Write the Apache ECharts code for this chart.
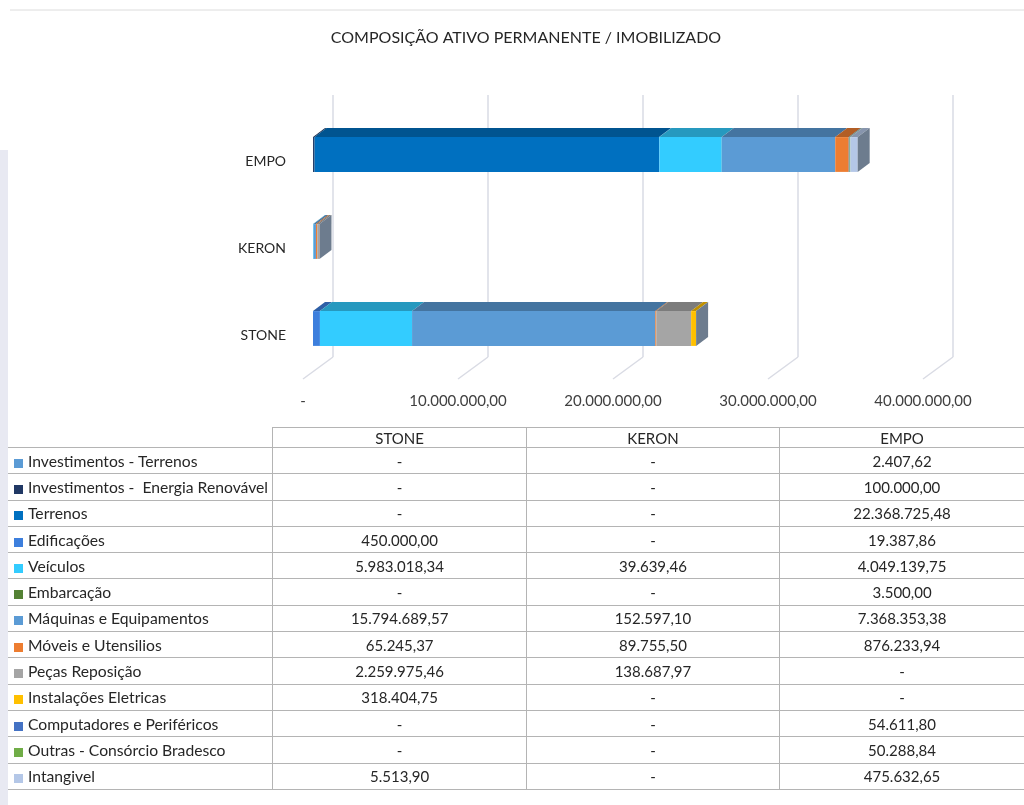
<!DOCTYPE html>
<html>
<head>
    <meta charset="utf-8">
    <title>Composição Ativo Permanente / Imobilizado</title>
    <script src="https://cdn.jsdelivr.net/npm/echarts@6/dist/echarts.min.js"></script>
    <style>
        body { margin: 0; background: #fff; }
        #wrap { position: relative; width: 1024px; height: 805px; overflow: hidden; }
        #chart { position: absolute; left: 0; top: 0; width: 1024px; height: 805px; }
        #tabela {
            position: absolute; left: 8px; top: 427px;
            border-collapse: collapse; table-layout: fixed;
            font-family: Lato, 'Noto Sans', sans-serif; font-size: 15px; color: #262626;
        }
        #tabela td, #tabela th { padding: 0; white-space: pre; font-weight: normal; }
        #tabela th { height: 19px; text-align: center; border-top: 1px solid #b4b4b4; border-left: 1px solid #b4b4b4; border-bottom: 1px solid #b4b4b4; }
        #tabela th.vazio { border-top: none; border-left: none; }
        #tabela td { height: 25.3px; border-bottom: 1px solid #b4b4b4; text-align: center; border-left: 1px solid #b4b4b4; }
        #tabela td.conta { text-align: left; border-left: none; padding-left: 6px; font-size: 15.7px; }
        .quad { display: inline-block; width: 9px; height: 9px; margin-right: 5px; vertical-align: -1px; }
    </style>
</head>
<body>
<div id="wrap">
    <div id="chart"></div>
    <table id="tabela"></table>
</div>
<script>
    // dados
    var empresas = ['STONE', 'KERON', 'EMPO'];
    var contas = [
        'Investimentos - Terrenos',
        'Investimentos -  Energia Renovável',
        'Terrenos',
        'Edificações',
        'Veículos',
        'Embarcação',
        'Máquinas e Equipamentos',
        'Móveis e Utensilios',
        'Peças Reposição',
        'Instalações Eletricas',
        'Computadores e Periféricos',
        'Outras - Consórcio Bradesco',
        'Intangivel'
    ];
    var cores = ['#5b9bd5', '#203864', '#0070c0', '#3d7fdd', '#33ccff', '#548235', '#5b9bd5',
                 '#ed7d31', '#a5a5a5', '#ffc000', '#4472c4', '#70ad47', '#b4c7e7'];
    var stone = [null, null, null, 450000.00, 5983018.34, null, 15794689.57, 65245.37, 2259975.46, 318404.75, null, null, 5513.90];
    var keron = [null, null, null, null, 39639.46, null, 152597.10, 89755.50, 138687.97, null, null, null, null];
    var empo = [2407.62, 100000.00, 22368725.48, 19387.86, 4049139.75, 3500.00, 7368353.38, 876233.94, null, null, 54611.80, 50288.84, 475632.65];
    var ticks = [0, 10000000, 20000000, 30000000, 40000000];

    var valores = [stone, keron, empo];

    function fmt(v) {
        if (v === null || v === 0) return '-';
        var p = v.toFixed(2).split('.');
        return p[0].replace(/\B(?=(\d{3})+(?!\d))/g, '.') + ',' + p[1];
    }

    function escurecer(hex, f) {
        var n = parseInt(hex.slice(1), 16);
        var r = Math.round(((n >> 16) & 255) * f), g = Math.round(((n >> 8) & 255) * f), b = Math.round((n & 255) * f);
        return 'rgb(' + r + ',' + g + ',' + b + ')';
    }

    // tabela de dados (legenda)
    var tab = document.getElementById('tabela');
    var html = '<colgroup><col style="width:265px"><col style="width:254px"><col style="width:254px"><col style="width:245px"></colgroup>';
    html += '<tr><th class="vazio"></th>';
    empresas.forEach(function (e) { html += '<th>' + e + '</th>'; });
    html += '</tr>';
    contas.forEach(function (c, i) {
        html += '<tr><td class="conta"><span class="quad" style="background:' + cores[i] + '"></span>' + c + '</td>';
        valores.forEach(function (arr) { html += '<td>' + fmt(arr[i]) + '</td>'; });
        html += '</tr>';
    });
    tab.innerHTML = html;

    // barras empilhadas (início/fim de cada segmento)
    var ultimo = valores.map(function (arr) {
        var u = -1;
        arr.forEach(function (v, i) { if (v) u = i; });
        return u;
    });
    var acum = [0, 0, 0];
    var DX = 12, DY = 9;

    var series = contas.map(function (nome, i) {
        var data = valores.map(function (arr, c) {
            var v = arr[i] || 0;
            var ini = acum[c];
            acum[c] += v;
            return [ini, acum[c], c, ultimo[c] === i ? 1 : 0];
        });
        return {
            name: nome,
            type: 'custom',
            xAxisIndex: 0,
            yAxisIndex: 0,
            z: 5,
            data: data,
            renderItem: function (params, api) {
                var s = api.value(0), e = api.value(1), c = api.value(2), last = api.value(3);
                if (e - s <= 0) return;
                var a = api.coord([s, c]), b = api.coord([e, c]);
                var h = api.size([0, 1])[1] * 0.4;
                var yt = a[1] - h / 2, yb = a[1] + h / 2;
                var filhos = [
                    { type: 'polygon', shape: { points: [[a[0], yt], [a[0] + DX, yt - DY], [b[0] + DX, yt - DY], [b[0], yt]] },
                      style: { fill: escurecer(cores[i], 0.75) } },
                    { type: 'rect', shape: { x: a[0], y: yt, width: b[0] - a[0], height: h }, style: { fill: cores[i] } }
                ];
                if (last) {
                    filhos.push({ type: 'polygon', shape: { points: [[b[0], yt], [b[0] + DX, yt - DY], [b[0] + DX, yb - DY], [b[0], yb]] },
                                  style: { fill: '#6d7c8e' } });
                }
                return { type: 'group', children: filhos };
            }
        };
    });

    // linhas do piso (diagonais)
    series.push({
        type: 'custom',
        xAxisIndex: 1,
        yAxisIndex: 1,
        z: 1,
        silent: true,
        data: ticks.map(function (t) { return [t, 0]; }),
        renderItem: function (params, api) {
            var p = api.coord([api.value(0), 0]);
            return { type: 'line', shape: { x1: p[0], y1: p[1], x2: p[0] - 30, y2: p[1] + 22 },
                     style: { stroke: '#d9dbe4', lineWidth: 1.5 } };
        }
    });

    var chart = echarts.init(document.getElementById('chart'));
    chart.setOption({
        animation: false,
        title: {
            text: 'COMPOSIÇÃO ATIVO PERMANENTE / IMOBILIZADO',
            left: 521,
            top: 25,
            textAlign: 'center',
            textStyle: { fontFamily: 'Lato', fontSize: 16, fontWeight: 'normal', color: '#262626' }
        },
        tooltip: { show: false },
        graphic: [
            { type: 'line', shape: { x1: 10, y1: 10, x2: 1024, y2: 10 }, style: { stroke: '#dcdcdc', lineWidth: 1 } },
            { type: 'rect', shape: { x: 0, y: 150, width: 8, height: 655 }, style: { fill: '#e8e9f2' } }
        ],
        grid: [
            { left: 313, top: 111, width: 616, height: 261 },
            { left: 333, top: 95, width: 620, height: 262 },
            { left: 303, top: 379, width: 620, height: 1 }
        ],
        xAxis: [
            { type: 'value', gridIndex: 0, min: 0, max: 40000000, interval: 10000000, show: false },
            { type: 'value', gridIndex: 1, min: 0, max: 40000000, interval: 10000000,
              axisLine: { show: false }, axisTick: { show: false }, axisLabel: { show: false },
              splitLine: { show: true, lineStyle: { color: '#d9dbe4', width: 1.5 } } },
            { type: 'value', gridIndex: 2, min: 0, max: 40000000, interval: 10000000,
              axisLine: { show: false }, axisTick: { show: false }, splitLine: { show: false },
              axisLabel: { margin: 14, fontFamily: 'Lato', fontSize: 15, color: '#404040',
                           formatter: function (v) { return fmt(v); } } }
        ],
        yAxis: [
            { type: 'category', gridIndex: 0, data: empresas,
              axisLine: { show: false }, axisTick: { show: false },
              axisLabel: { margin: 27, fontFamily: 'Lato', fontSize: 14, color: '#262626', verticalAlign: 'top' } },
            { type: 'value', gridIndex: 1, min: 0, max: 1, show: false },
            { type: 'value', gridIndex: 2, min: 0, max: 1, show: false }
        ],
        series: series
    });
</script>
</body>
</html>
